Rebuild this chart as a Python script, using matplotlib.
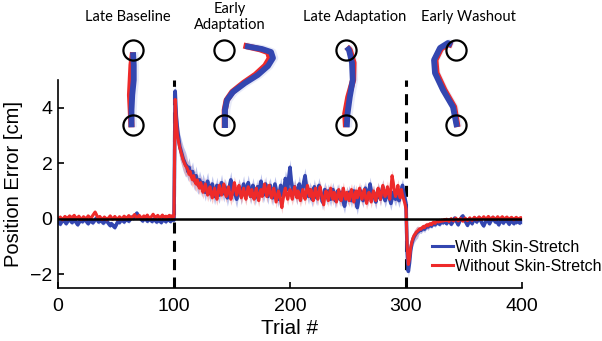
import numpy as np
import matplotlib
matplotlib.use("Agg")
import matplotlib.pyplot as plt
from matplotlib.lines import Line2D

# ---------------- data ----------------
trials = np.arange(1, 401)

blue_baseline = [
    -0.15,-0.20,-0.12,-0.08,-0.05,-0.10,-0.18,-0.12,-0.06,-0.02,
    -0.08,-0.14,-0.10,-0.04,-0.09,-0.16,-0.22,-0.15,-0.08,-0.05,
    -0.11,-0.07,-0.02,-0.06,-0.13,-0.18,-0.12,-0.05,-0.09,-0.15,
    -0.10,-0.04,0.02,-0.05,-0.12,-0.08,-0.03,-0.10,-0.16,-0.12,
    -0.06,-0.09,-0.14,-0.20,-0.25,-0.18,-0.22,-0.28,-0.32,-0.24,
    -0.15,-0.10,-0.14,-0.08,-0.03,-0.07,-0.12,-0.06,-0.01,-0.05,
    -0.09,-0.04,0.02,0.06,0.01,0.08,0.14,0.20,0.12,0.05,
    0.02,-0.04,-0.08,-0.02,0.03,-0.03,-0.09,-0.05,0.01,-0.04,
    -0.10,-0.06,-0.01,-0.07,-0.12,-0.08,-0.03,-0.09,-0.14,-0.08,
    -0.02,-0.06,-0.11,-0.05,0.00,-0.06,-0.10,-0.04,-0.02,-0.05]
red_baseline = [
    0.02,0.06,0.00,-0.04,0.03,0.08,0.04,-0.02,0.05,0.10,
    0.06,0.01,0.08,0.12,0.05,0.00,0.04,0.09,0.03,-0.03,
    0.02,0.07,0.03,-0.02,0.04,0.10,0.06,0.00,0.05,0.12,
    0.18,0.24,0.16,0.06,0.02,0.08,0.03,-0.03,0.01,0.06,
    0.02,-0.04,0.00,0.05,0.10,0.04,-0.02,0.03,0.08,0.02,
    -0.03,0.02,0.07,0.03,-0.01,0.04,0.09,0.05,0.00,0.06,
    0.11,0.07,0.02,0.05,0.10,0.15,0.08,0.02,0.06,0.12,
    0.07,0.01,0.05,0.10,0.04,0.08,0.13,0.06,0.01,0.05,
    0.10,0.16,0.09,0.03,0.07,0.12,0.06,0.02,0.08,0.13,
    0.07,0.03,0.09,0.04,0.08,0.12,0.06,0.10,0.05,0.08]
blue_adapt = [
    4.60,3.70,3.20,2.90,2.60,2.45,2.30,2.15,2.05,1.95,
    1.90,1.70,1.85,1.60,1.55,1.70,1.45,1.35,1.55,1.30,
    1.20,1.40,1.25,1.10,1.30,1.15,0.95,1.20,1.35,1.10,
    0.90,1.05,1.25,1.00,0.80,1.00,1.20,0.95,0.85,1.10,
    1.30,1.05,0.90,1.15,1.00,0.75,0.95,1.20,1.40,1.10,
    0.90,1.10,0.85,0.70,0.95,1.15,1.00,0.80,1.05,1.25,
    1.00,0.85,1.10,1.30,1.05,0.80,0.95,1.20,1.00,0.75,
    0.95,1.15,0.90,1.10,1.35,1.05,0.85,1.00,1.25,0.95,
    0.80,1.05,1.20,0.90,0.75,1.00,1.25,1.05,0.85,0.70,
    0.95,1.20,1.00,0.80,1.10,1.45,1.30,1.05,1.50,1.85,
    1.40,1.10,0.90,1.15,0.95,0.80,1.05,1.25,1.00,0.85,
    1.10,1.35,1.55,1.20,0.95,0.80,1.05,0.90,0.70,0.95,
    1.15,0.90,0.75,1.00,1.20,0.95,0.80,0.60,0.85,1.05,
    0.90,0.75,1.00,0.85,0.70,0.90,1.05,0.85,0.65,0.80,
    1.00,0.85,0.70,0.95,0.80,0.60,0.45,0.70,0.90,0.75,
    0.95,0.80,0.65,0.85,1.00,0.80,0.60,0.40,0.65,0.85,
    1.00,0.80,0.65,0.90,1.10,0.85,0.70,0.95,1.25,1.00,
    0.80,0.95,0.75,0.60,0.85,1.05,0.90,0.70,0.95,1.15,
    0.85,0.65,0.80,1.00,0.85,0.70,0.55,0.75,0.95,0.80,
    0.70,0.90,0.80,0.65,0.85,1.05,1.20,0.95,0.75,0.55]
red_adapt = [
    4.30,3.50,3.00,2.75,2.55,2.40,2.25,2.10,2.00,1.90,
    1.85,1.75,1.60,1.70,1.50,1.40,1.55,1.35,1.25,1.40,
    1.20,1.10,1.30,1.15,0.95,1.10,1.25,1.05,0.85,1.00,
    1.15,0.90,0.75,0.95,1.10,0.85,0.70,0.95,1.20,1.00,
    0.85,1.05,1.25,0.95,0.80,1.00,1.15,0.90,0.70,0.85,
    1.05,1.30,1.10,0.85,1.00,1.20,0.95,0.75,0.90,1.10,
    0.85,0.70,0.95,1.15,0.90,0.80,1.05,0.85,0.70,0.90,
    1.10,0.85,0.65,0.90,1.05,0.80,1.00,1.25,1.05,0.80,
    1.00,1.20,0.95,0.75,0.90,1.10,0.85,0.60,0.80,1.00,
    0.85,0.65,0.40,0.70,0.95,1.10,0.85,0.70,0.90,1.05,
    0.85,0.70,0.95,1.15,0.90,0.75,1.00,0.80,0.65,0.85,
    1.05,0.90,0.70,0.95,1.20,1.00,0.80,1.05,0.85,0.65,
    0.90,1.10,0.85,0.70,0.95,1.15,0.90,0.70,0.50,0.80,
    1.00,0.85,0.65,0.90,1.10,0.85,0.70,0.95,0.80,0.60,
    0.85,1.05,0.80,0.65,0.90,1.10,0.85,0.70,0.95,0.80,
    0.65,0.90,1.05,0.80,0.60,0.85,1.00,0.75,0.95,1.10,
    0.85,0.70,0.90,1.05,0.80,0.55,0.75,0.95,0.80,0.60,
    0.85,1.00,0.80,0.65,0.90,1.10,0.85,0.70,0.95,1.20,
    1.00,0.80,0.95,1.15,0.90,0.70,1.10,1.55,1.30,1.00,
    0.80,0.95,1.20,0.90,0.75,1.05,0.85,0.70,0.55,0.35]
blue_washout = [
    -1.20,-1.90,-1.60,-1.15,-0.90,-0.75,-0.65,-0.58,-0.52,-0.48,
    -0.45,-0.40,-0.42,-0.36,-0.33,-0.38,-0.30,-0.26,-0.30,-0.24,
    -0.22,-0.27,-0.20,-0.16,-0.22,-0.18,-0.12,-0.16,-0.20,-0.14,
    -0.10,-0.15,-0.08,-0.12,-0.18,-0.10,-0.05,-0.12,-0.20,-0.14,
    -0.06,0.02,-0.06,-0.14,-0.22,-0.12,-0.04,0.06,0.10,0.00,
    -0.08,-0.16,-0.24,-0.14,-0.05,-0.10,-0.18,-0.08,0.02,-0.06,
    -0.12,-0.04,0.04,-0.04,-0.12,-0.20,-0.26,-0.16,-0.08,-0.02,
    -0.10,-0.18,-0.10,-0.02,0.04,-0.04,-0.12,-0.08,-0.15,-0.22,
    -0.12,-0.04,-0.10,-0.16,-0.08,-0.02,-0.08,-0.14,-0.20,-0.10,
    -0.04,-0.12,-0.18,-0.08,-0.14,-0.06,-0.10,-0.16,-0.08,-0.12]
red_washout = [
    -1.00,-1.65,-1.45,-1.05,-0.85,-0.70,-0.60,-0.55,-0.48,-0.45,
    -0.40,-0.36,-0.38,-0.32,-0.28,-0.32,-0.25,-0.22,-0.26,-0.20,
    -0.18,-0.22,-0.15,-0.12,-0.17,-0.12,-0.08,-0.12,-0.06,-0.10,
    -0.05,-0.09,-0.03,-0.07,-0.02,-0.06,-0.10,-0.04,0.00,-0.05,
    -0.08,-0.02,0.02,-0.04,-0.08,-0.03,0.01,-0.05,-0.09,-0.03,
    0.02,-0.03,-0.07,-0.02,0.03,-0.02,-0.06,0.00,0.05,0.00,
    -0.04,0.01,0.06,0.01,-0.03,0.02,0.07,0.02,-0.02,0.03,
    0.08,0.03,-0.02,0.02,0.06,0.01,-0.03,0.02,0.07,0.02,
    -0.02,0.03,0.07,0.02,-0.02,0.03,0.06,0.01,-0.03,0.02,
    0.05,0.00,-0.04,0.01,0.05,0.01,-0.03,0.02,0.04,0.00]

# standard error, one value per block of 10 trials
blue_sem_blocks = [
    0.08,0.08,0.08,0.08,0.08,0.08,0.08,0.08,0.08,0.08,
    0.45,0.35,0.32,0.30,0.30,0.30,0.28,0.28,0.28,0.28,
    0.30,0.28,0.28,0.26,0.26,0.25,0.25,0.25,0.25,0.25,
    0.22,0.12,0.09,0.08,0.08,0.08,0.08,0.08,0.08,0.08]
red_sem_blocks = [
    0.06,0.06,0.06,0.06,0.06,0.06,0.06,0.06,0.06,0.06,
    0.35,0.28,0.24,0.22,0.22,0.22,0.22,0.22,0.22,0.22,
    0.22,0.22,0.22,0.22,0.22,0.22,0.22,0.22,0.22,0.22,
    0.18,0.10,0.07,0.06,0.06,0.06,0.06,0.06,0.06,0.06]

series_labels = ["With Skin-Stretch", "Without Skin-Stretch"]
phase_edges = [100, 300]
x_ticks = [0, 100, 200, 300, 400]
y_ticks = [-2, 0, 2, 4]

# hand trajectories (lateral offset, forward distance; target at 10)
phase_titles = ["Late Baseline", "Early\nAdaptation", "Late Adaptation", "Early Washout"]
traj_blue = [
    [(-0.2,-0.3),(-0.2,2.0),(-0.1,4.0),(0.1,6.0),(0.1,8.0),(0.0,9.7)],
    [(0.13,-0.4),(0.13,2.0),(0.4,3.33),(1.2,4.4),(2.8,5.6),(4.5,6.67),
     (5.87,7.87),(6.53,8.93),(6.27,9.73),(5.07,10.13),(2.8,10.53)],
    [(0.1,-0.3),(0.2,1.5),(0.5,3.7),(0.9,6.0),(0.8,8.3),(0.4,10.0),(0.1,10.4)],
    [(0.13,-0.27),(-0.4,2.4),(-1.73,4.67),(-2.8,6.93),(-2.93,8.67),
     (-2.13,10.27),(-1.07,10.93),(-0.53,10.67)],
]
traj_red = [
    [(-0.2,-0.3),(-0.3,2.0),(-0.4,4.0),(-0.3,6.0),(-0.2,8.0),(0.0,9.7)],
    [(0.1,-0.4),(0.1,2.0),(0.35,3.3),(1.1,4.4),(2.6,5.6),(4.2,6.7),
     (5.5,7.9),(6.1,8.9),(5.9,9.7),(4.8,10.1),(2.6,10.6)],
    [(0.0,-0.3),(-0.1,1.5),(0.3,3.7),(0.95,6.0),(1.0,8.3),(0.5,10.0),(0.1,10.4)],
    [(0.2,-0.27),(-0.25,2.4),(-1.55,4.67),(-2.6,6.93),(-2.75,8.67),
     (-2.0,10.2),(-1.0,10.8),(-0.5,10.6)],
]

# ---------------- style ----------------
BLUE = "#3346B0"
RED = "#EE2A2A"
BLUE_BAND = "#8F9AE0"
RED_BAND = "#F5A0A0"

W, H = 602, 341
fig = plt.figure(figsize=(W / 100, H / 100), dpi=100)
ax = fig.add_axes([58 / W, 1 - 288 / H, (522 - 58) / W, (288 - 80) / H])

blue = np.array(blue_baseline + blue_adapt + blue_washout)
red = np.array(red_baseline + red_adapt + red_washout)
blue_sem = np.repeat(blue_sem_blocks, 10)
red_sem = np.repeat(red_sem_blocks, 10)

ax.fill_between(trials, blue - blue_sem, blue + blue_sem, color=BLUE_BAND,
                alpha=0.6, lw=0, zorder=1)
ax.fill_between(trials, red - red_sem, red + red_sem, color=RED_BAND,
                alpha=0.6, lw=0, zorder=1.1)
for xe in phase_edges:
    ax.axvline(xe, color="black", lw=2.2, dashes=(3.6, 2.4), zorder=1.5)
ax.plot(trials, blue, color=BLUE, lw=2.6, zorder=2, label=series_labels[0])
ax.plot(trials, red, color=RED, lw=2.2, zorder=2.1, label=series_labels[1])
ax.plot([0, 400], [0, 0], color="black", lw=1.8, zorder=3)

ax.set_xlim(0, 400)
ax.set_ylim(-2.5, 5)
ax.set_xticks(x_ticks)
ax.set_yticks(y_ticks)
for s in ["top", "right"]:
    ax.spines[s].set_visible(False)
for s in ["left", "bottom"]:
    ax.spines[s].set_linewidth(1.2)
ax.tick_params(direction="in", length=4, width=1.2, labelsize=14)
ax.tick_params(axis="x", pad=7)
ax.tick_params(axis="y", pad=4)
for lab in ax.get_xticklabels() + ax.get_yticklabels():
    lab.set_fontfamily("Liberation Sans")
ax.set_xlabel("Trial #", fontsize=15, family="Liberation Sans", labelpad=3)
ax.set_ylabel("Position Error [cm]", fontsize=14.5, family="Liberation Sans", labelpad=5)

handles = [Line2D([], [], color=BLUE, lw=2.2), Line2D([], [], color=RED, lw=2.2)]
fig.legend(handles, series_labels, loc="upper left",
           bbox_to_anchor=(432 / W, 1 - 240 / H), frameon=False,
           prop={"family": "Liberation Sans", "size": 11.5},
           handlelength=1.3, handletextpad=0.15, labelspacing=0.25,
           borderpad=0, borderaxespad=0)

# ---------------- trajectory insets ----------------
inset_cx = [133, 224, 346, 456]
title_cx = [128, 230, 355, 468]
px_per_unit = 7.5
for i in range(4):
    cx = inset_cx[i]
    left = (cx - 60) / W
    bottom = 1 - 135 / H
    iax = fig.add_axes([left, bottom, 120 / W, 100 / H], zorder=5)
    iax.set_xlim(-60 / px_per_unit, 60 / px_per_unit)
    iax.set_ylim(-10 / px_per_unit, 90 / px_per_unit)
    iax.axis("off")
    rb = np.array(traj_red[i])
    bb = np.array(traj_blue[i])
    iax.plot(bb[:, 0] + 0.2, bb[:, 1], color=BLUE_BAND, lw=5.5, alpha=0.2,
             solid_capstyle="butt", solid_joinstyle="round")
    iax.plot(rb[:, 0], rb[:, 1], color=RED, lw=4.4, solid_capstyle="butt",
             solid_joinstyle="round")
    iax.plot(bb[:, 0], bb[:, 1], color=BLUE, lw=4.2, solid_capstyle="butt",
             solid_joinstyle="round")
    iax.plot([0, 0], [0, 10], linestyle="none", marker="o", ms=14.5,
             mfc="none", mec="black", mew=1.6, clip_on=False)
    fig.text(title_cx[i] / W, 1 - 17 / H, phase_titles[i], ha="center",
             va="center", fontsize=10.5, family="Lato", linespacing=1.2)

fig.savefig("out.png", dpi=100)
